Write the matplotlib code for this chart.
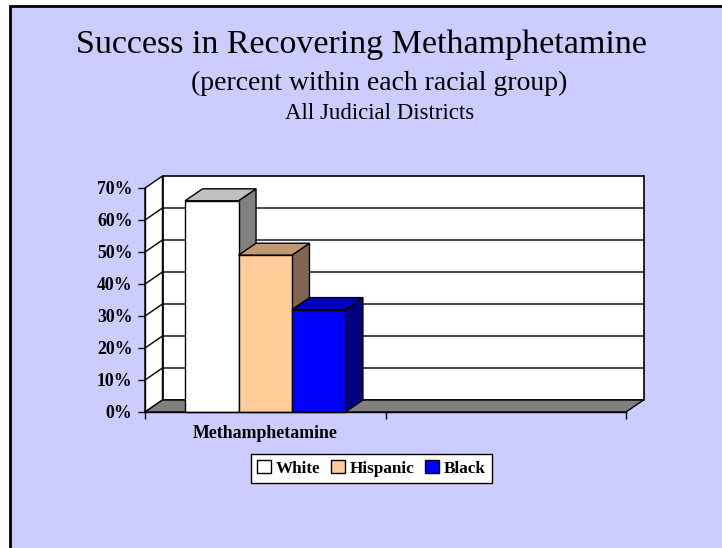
import matplotlib
matplotlib.use('Agg')
import matplotlib.pyplot as plt
from matplotlib.patches import Rectangle, Polygon, Patch
from matplotlib.ticker import FuncFormatter

plt.rcParams['font.family'] = ['Liberation Serif', 'DejaVu Serif']

# data
categories = ['Methamphetamine', '']
groups = ['White', 'Hispanic', 'Black']
values = [66, 49, 32]          # percent recovered, first category only
front_colors = ['#FFFFFF', '#FFCC99', '#0000FF']
top_colors = ['#C0C0C0', '#C09A72', '#0000C0']
side_colors = ['#808080', '#806650', '#000080']
y_ticks = [0, 10, 20, 30, 40, 50, 60, 70]

W, H = 722, 548
fig = plt.figure(figsize=(W / 100, H / 100), dpi=100)
fig.patch.set_facecolor('white')

# lavender slide background with a black frame on the left/top
bg = Rectangle((10 / W, -0.1), 1.2, 1.1 - 6 / H, transform=fig.transFigure,
               facecolor='#CCCCFF', edgecolor='black', linewidth=2, zorder=-5)
fig.patches.append(bg)

fig.text(361.5 / W, 1 - 45 / H, 'Success in Recovering Methamphetamine',
         ha='center', va='center', fontsize=24.5)
fig.text(379 / W, 1 - 83 / H, '(percent within each racial group)',
         ha='center', va='center', fontsize=20)
fig.text(380 / W, 1 - 113 / H, 'All Judicial Districts',
         ha='center', va='center', fontsize=16.5)

# front plane of the 3d chart
ax = fig.add_axes([145 / W, 1 - 412 / H, 481 / W, 224 / H])
ax.set_zorder(2)
ax.set_xlim(0, len(categories))
ax.set_ylim(0, 70)
ax.patch.set_visible(False)
for s in ['top', 'right']:
    ax.spines[s].set_visible(False)
ax.spines['left'].set_linewidth(1)
ax.spines['bottom'].set_linewidth(1)
ax.spines['left'].set_zorder(10)
ax.spines['bottom'].set_zorder(10)

# depth offset of the walls, in data units
DX = 17.5 / (481 / len(categories))
DY = 12 / (224 / 70)
nc = len(categories)

# back wall and side wall
ax.add_patch(Polygon([(DX, DY), (nc + DX, DY), (nc + DX, 70 + DY), (DX, 70 + DY)],
                     closed=True, facecolor='white', edgecolor='black', lw=1.2,
                     clip_on=False, zorder=1))
ax.add_patch(Polygon([(0, 0), (DX, DY), (DX, 70 + DY), (0, 70)],
                     closed=True, facecolor='white', edgecolor='black', lw=1,
                     clip_on=False, zorder=1))
for y in y_ticks[1:-1]:
    ax.plot([0, DX, nc + DX], [y, y + DY, y + DY], color='black', lw=1,
            clip_on=False, zorder=2)

# floor
ax.add_patch(Polygon([(0, 0), (nc, 0), (nc + DX, DY), (DX, DY)],
                     closed=True, facecolor='#808080', edgecolor='black', lw=1,
                     clip_on=False, zorder=3))

# bars, left to right so each front face hides the previous side
bw = 1 / (len(groups) + 1.5)
x_start = 0.75 * bw
for i, v in enumerate(values):
    x0 = x_start + i * bw
    x1 = x0 + bw
    z = 4 + i
    ax.add_patch(Polygon([(x1, 0), (x1 + DX, DY), (x1 + DX, v + DY), (x1, v)],
                         closed=True, facecolor=side_colors[i], edgecolor='black',
                         lw=1, clip_on=False, zorder=z))
    ax.add_patch(Polygon([(x0, v), (x1, v), (x1 + DX, v + DY), (x0 + DX, v + DY)],
                         closed=True, facecolor=top_colors[i], edgecolor='black',
                         lw=1, clip_on=False, zorder=z))
    ax.add_patch(Rectangle((x0, 0), bw, v, facecolor=front_colors[i],
                           edgecolor='black', lw=1, clip_on=False, zorder=z))

# axes ticks and labels
ax.set_yticks(y_ticks)
ax.yaxis.set_major_formatter(FuncFormatter(lambda v, p: f'{int(v)}%'))
ax.tick_params(axis='y', direction='out', length=5, width=1, pad=4,
               labelsize=12.8)
for lbl in ax.get_yticklabels():
    lbl.set_fontweight('bold')

ax.set_xticks(range(nc + 1))
ax.set_xticklabels([])
ax.set_xticks([k + 0.5 for k in range(nc)], minor=True)
ax.set_xticklabels(categories, minor=True, fontweight='bold', fontsize=12.8)
ax.tick_params(axis='x', which='major', direction='out', length=5, width=1)
ax.tick_params(axis='x', which='minor', length=0, pad=9)

handles = [Patch(facecolor=front_colors[i], edgecolor='black', label=groups[i])
           for i in range(len(groups))]
leg = fig.legend(handles=handles, loc='center', ncol=3,
                 bbox_to_anchor=(371.5 / W, 1 - 468.5 / H),
                 prop={'weight': 'bold', 'size': 12.3},
                 frameon=True, fancybox=False, edgecolor='black',
                 handlelength=0.8, handleheight=0.8, handletextpad=0.3,
                 columnspacing=0.6, borderpad=0.35, borderaxespad=0)
leg.get_frame().set_linewidth(1)
leg.get_frame().set_facecolor('white')
leg.get_frame().set_alpha(1)

fig.savefig('out.png', dpi=100)
